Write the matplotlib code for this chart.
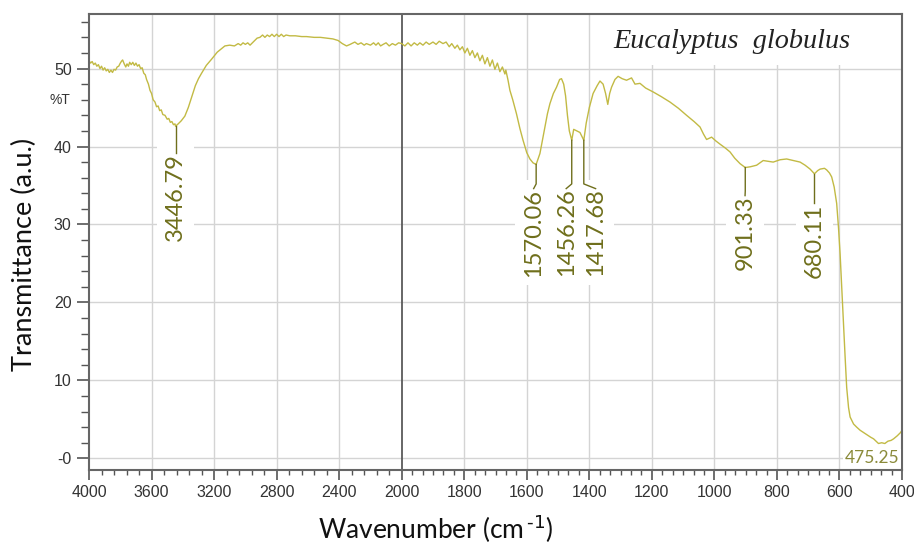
import numpy as np
import matplotlib
matplotlib.use('Agg')
import matplotlib.pyplot as plt
from matplotlib.ticker import FixedLocator, NullFormatter
from matplotlib.patches import Rectangle

# FTIR spectrum, Eucalyptus globulus
wavenumber = [4000, 3990, 3980, 3970, 3960, 3950, 3940, 3930, 3920, 3910,
              3900, 3890, 3880, 3870, 3860, 3850, 3840, 3830, 3820, 3810,
              3800, 3790, 3785, 3775, 3765, 3757, 3748, 3740, 3730, 3720,
              3710, 3700, 3690, 3680, 3670, 3660, 3650, 3640, 3632, 3620,
              3610, 3600, 3590, 3578, 3568, 3558, 3548, 3538, 3528, 3514,
              3500, 3490, 3480, 3470, 3460, 3450, 3446.79, 3430, 3410, 3387,
              3365, 3344, 3320, 3300, 3280, 3250, 3216, 3180, 3150, 3131,
              3100, 3070, 3046, 3030, 3015, 3000, 2985, 2970, 2955, 2940,
              2925, 2907, 2890, 2875, 2860, 2845, 2830, 2815, 2800, 2785,
              2770, 2755, 2740, 2716, 2680, 2640, 2609, 2560, 2520, 2481,
              2440, 2407, 2380, 2353, 2330, 2300, 2280, 2260, 2240, 2226,
              2200, 2180, 2165, 2150, 2135, 2119, 2100, 2080, 2060, 2040,
              2020, 2000, 1990, 1980, 1970, 1960, 1950, 1942, 1932, 1922,
              1912, 1900, 1890, 1880, 1868, 1858, 1848, 1840, 1830, 1822,
              1814, 1806, 1798, 1790, 1782, 1774, 1766, 1758, 1750, 1742,
              1734, 1726, 1718, 1710, 1702, 1694, 1686, 1678, 1670, 1667,
              1660, 1654, 1645, 1633, 1622, 1612, 1600, 1590, 1580, 1570.06,
              1558, 1550, 1542, 1534, 1526, 1515, 1505, 1495, 1489, 1482,
              1476, 1470, 1464, 1456.26, 1450, 1440, 1430, 1425, 1417.68, 1410,
              1400, 1388, 1375, 1366, 1356, 1348, 1341, 1335, 1329, 1318,
              1308, 1295, 1281, 1265, 1254, 1238, 1220, 1196, 1170, 1142,
              1115, 1089, 1065, 1046, 1035, 1025, 1009, 995, 982, 965,
              950, 935, 918, 901.33, 885, 865, 844, 828, 812, 790,
              769, 748, 726, 710, 694, 680.11, 670, 662, 648, 641,
              632, 625, 617, 609, 603, 598, 593, 588, 582, 577,
              571, 566, 555, 545, 534, 515, 500, 491, 475.25, 465,
              455, 445, 435, 427, 415, 405, 400]
transmittance = [51.0, 50.7, 50.9, 50.5, 50.7, 50.3, 50.5, 50.0, 50.3, 49.8,
                 50.1, 49.7, 49.9, 49.5, 49.8, 49.5, 49.9, 49.8, 50.2, 50.3,
                 50.7, 51.0, 51.1, 50.6, 50.2, 50.6, 50.3, 50.8, 50.5, 50.8,
                 50.4, 50.7, 50.3, 50.5, 50.0, 50.1, 49.4, 49.2, 48.6, 48.0,
                 47.2, 46.8, 46.0, 45.7, 45.1, 45.2, 44.6, 44.7, 44.1, 44.0,
                 43.5, 43.6, 43.1, 43.2, 42.8, 42.9, 42.6, 42.9, 43.3, 43.9,
                 45.0, 46.3, 47.8, 48.7, 49.4, 50.4, 51.2, 52.1, 52.6, 52.9,
                 53.0, 52.9, 53.2, 53.0, 53.3, 53.1, 53.3, 53.0, 53.3, 53.6,
                 53.9, 54.0, 54.3, 54.0, 54.3, 54.1, 54.4, 54.1, 54.4, 54.1,
                 54.4, 54.1, 54.3, 54.2, 54.2, 54.1, 54.1, 54.0, 54.0, 53.9,
                 53.8, 53.6, 53.2, 52.9, 53.1, 53.4, 53.1, 53.3, 53.0, 53.2,
                 53.0, 53.3, 53.0, 53.3, 52.9, 53.1, 53.3, 52.9, 53.2, 53.0,
                 53.3, 53.2, 52.9, 53.3, 52.9, 53.3, 53.0, 53.3, 53.0, 53.4,
                 53.1, 53.4, 53.1, 53.5, 53.2, 53.4, 52.8, 53.2, 52.6, 53.0,
                 52.4, 52.8, 52.0, 52.6, 51.7, 52.3, 51.4, 52.0, 51.0, 51.7,
                 50.6, 51.4, 50.3, 51.1, 49.9, 50.7, 49.6, 50.2, 49.3, 49.8,
                 48.5, 47.2, 46.0, 44.2, 42.3, 40.8, 39.2, 38.4, 37.9, 37.7,
                 39.1, 40.8, 42.5, 44.2, 45.5, 46.8, 47.6, 48.6, 48.7, 48.0,
                 46.5, 44.0, 42.0, 40.8, 42.2, 42.0, 41.8, 41.4, 40.8, 43.0,
                 45.0, 46.8, 47.8, 48.4, 48.0, 46.8, 45.4, 46.8, 47.6, 48.6,
                 49.0, 48.7, 48.5, 48.8, 48.0, 48.1, 47.5, 47.0, 46.4, 45.7,
                 44.9, 44.0, 43.2, 42.5, 41.6, 40.9, 41.2, 40.7, 40.3, 39.8,
                 39.3, 38.5, 37.8, 37.3, 37.4, 37.6, 38.2, 38.1, 38.0, 38.3,
                 38.4, 38.2, 38.0, 37.6, 37.1, 36.5, 36.9, 37.1, 37.2, 37.0,
                 36.6, 36.1, 34.8, 32.7, 29.5, 26.2, 22.0, 17.7, 13.0, 9.1,
                 6.5, 5.3, 4.4, 4.0, 3.6, 3.1, 2.7, 2.5, 1.9, 2.0,
                 1.9, 2.2, 2.3, 2.5, 2.9, 3.3, 3.6]
assert len(wavenumber) == len(transmittance)

peak_pos = [3446.79, 1570.06, 1456.26, 1417.68, 901.33, 680.11]
peak_val = [42.6, 37.7, 40.8, 40.8, 37.3, 36.5]
peak_text = ['3446.79', '1570.06', '1456.26', '1417.68', '901.33', '680.11']
# where each rotated label sits (x of label, top of label)
label_x = [3446.79, 1578, 1474, 1380, 902, 680.11]
label_top = [39.2, 34.6, 34.6, 34.6, 33.7, 32.7]

major_x = [4000, 3600, 3200, 2800, 2400, 2000, 1800, 1600, 1400, 1200, 1000, 800, 600, 400]


def fwd(x):
    x = np.asarray(x, dtype=float)
    return np.where(x > 2000, 2000 + (x - 2000) / 2.0, x)


def inv(u):
    u = np.asarray(u, dtype=float)
    return np.where(u > 2000, 2000 + (u - 2000) * 2.0, u)


olive = '#6f6f1c'
line_col = '#c2ba44'

fig = plt.figure(figsize=(9.14, 5.48), dpi=100)
ax = fig.add_axes([0.0974, 0.1423, 0.8895, 0.8322])
ax.set_xscale('function', functions=(fwd, inv))
ax.set_xlim(4000, 400)
ax.set_ylim(-1.5, 57)

# grid
for g in major_x:
    if g in (4000, 2000, 400):
        continue
    ax.axvline(g, color='#d4d4d4', lw=1.0, zorder=0)
for g in range(0, 60, 10):
    ax.axhline(g, color='#d4d4d4', lw=1.0, zorder=0)
ax.axvline(2000, color='#5a5a5a', lw=1.3, zorder=1)

# white block behind the title
ax.add_patch(Rectangle((0.635, 0.888), 0.365, 0.112, transform=ax.transAxes,
                       facecolor='white', edgecolor='none', zorder=1))

ax.plot(wavenumber, transmittance, color=line_col, lw=1.0, zorder=2)

for p, v, t, lx, lt in zip(peak_pos, peak_val, peak_text, label_x, label_top):
    ax.plot([p, p, lx], [v, lt + 0.6, lt], color=olive, lw=1.0, zorder=4)
    ax.text(lx, lt, t, rotation=90, ha='center', va='top', fontsize=17,
            family='Lato', color=olive, zorder=3,
            bbox=dict(boxstyle='square,pad=0.35', facecolor='white', edgecolor='none'))

ax.text(496, 0, '475.25', ha='center', va='center', fontsize=12.5, family='Lato',
        color='#8a8a3a', zorder=3,
        bbox=dict(boxstyle='square,pad=0.1', facecolor='white', edgecolor='none'))

ax.text(0.791, 0.9386, 'Eucalyptus  globulus', transform=ax.transAxes, ha='center',
        va='center', fontsize=20.3, family='Liberation Serif', style='italic',
        color='#222222', zorder=3)

# ticks
ax.xaxis.set_major_locator(FixedLocator(major_x))
left_minor = [v for v in np.arange(4000, 2000, -80) if v % 400 != 0]
right_minor = [2000 - k * 200 / 6 for k in range(1, 48) if k % 6 != 0]
ax.xaxis.set_minor_locator(FixedLocator(left_minor + right_minor))
ax.xaxis.set_minor_formatter(NullFormatter())
ax.set_xticklabels([str(v) for v in major_x])

ax.set_yticks(range(0, 60, 10))
ax.set_yticklabels(['-0', '10', '20', '30', '40', '50'])
ax.yaxis.set_minor_locator(FixedLocator([v for v in range(0, 58, 2) if v % 10 != 0]))

ax.tick_params(axis='both', which='major', colors='#555555', labelcolor='#333333',
               labelsize=11.5, width=1.2)
ax.tick_params(axis='x', which='major', length=7)
ax.tick_params(axis='y', which='major', length=9)
ax.tick_params(axis='x', which='minor', length=3.5, width=1.0, colors='#555555')
ax.tick_params(axis='y', which='minor', length=5.5, width=1.0, colors='#555555')
for lab in ax.get_xticklabels() + ax.get_yticklabels():
    lab.set_family('Liberation Sans')

for s in ax.spines.values():
    s.set_color('#666666')
    s.set_linewidth(1.5)

ax.text(-0.023, 46, '%T', transform=ax.get_yaxis_transform(), ha='right', va='center',
        fontsize=10, family='Liberation Sans', color='#333333')

fig.text(0.027, 0.535, 'Transmittance (a.u.)', rotation=90, ha='center', va='center',
         fontsize=19.5, family='Lato', color='#111111')
fig.text(0.477, 0.036, 'Wavenumber (cm$^{\\,\\text{-}1}$)', ha='center', va='center',
         fontsize=19, family='Lato', color='#111111')

fig.savefig('out.png', dpi=100)
